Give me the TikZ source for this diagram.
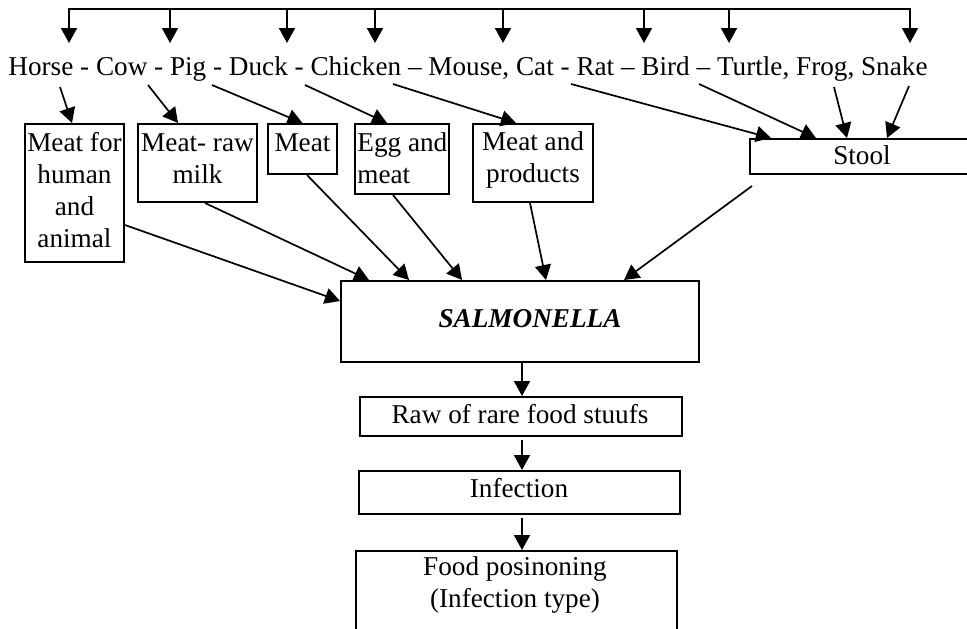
\documentclass[tikz,border=0pt]{standalone}
\usepackage{fontspec}
\setmainfont{Liberation Serif}
\usetikzlibrary{arrows.meta,calc}
\begin{document}
\begin{tikzpicture}[x=0.5pt,y=-0.5pt,
  box/.style={draw,line width=1pt,inner sep=0pt},
  lbl/.style={inner sep=0pt,font=\fontsize{13.6}{16}\selectfont},
  arr/.style={line width=0.85pt,-{Triangle[length=7.5pt,width=8pt]}},
  ]
\useasboundingbox (0,0) rectangle (967,628);

% feeder bar across the top
\coordinate (barL) at (69,9);
\coordinate (barR) at (910,9);
\draw[line width=1pt,line cap=rect] (barL) -- (barR);
\foreach \x [count=\i] in {69,170,287,375,503,644,729,910}{
  \coordinate (d\i) at (\x,43);
  \draw[arr] (d\i |- barL) -- (d\i);
}

% line of animal hosts
\node[lbl,anchor=base west] (animals) at (8,75)
  {Horse - Cow - Pig - Duck - Chicken -- Mouse, Cat - Rat -- Bird -- Turtle, Frog, Snake};

% source boxes (multi-line labels are anchored on their last baseline)
\node[box,minimum width=49.5pt,minimum height=69pt] (bMeatFor) at (74.5,193) {};
\node[lbl,align=center,anchor=base] (tMeatFor) at (74.5,247) {Meat for\\human\\and\\animal};

\node[box,minimum width=59.5pt,minimum height=39pt] (bRawMilk) at (197.5,163) {};
\node[lbl,align=center,anchor=base] (tRawMilk) at (197.5,183) {Meat- raw\\milk};

\node[box,minimum width=34.5pt,minimum height=25pt] (bMeat) at (302.5,149) {};
\node[lbl,anchor=base] (tMeat) at (302.5,151) {Meat};

\node[box,minimum width=47pt,minimum height=35pt] (bEgg) at (402,159) {};
\node[lbl,align=left,anchor=base west] (tEgg) at (357,183) {Egg and\\meat};

\node[box,minimum width=60pt,minimum height=39pt] (bProd) at (533,163) {};
\node[lbl,align=center,anchor=base] (tProd) at (533,182) {Meat and\\products};

% the stool box runs off the right edge
\node[box,minimum width=112.5pt,minimum height=17.5pt] (bStool) at (862.5,156.5) {};
\node[lbl,anchor=base] (tStool) at (862,164) {Stool};

% main chain
\node[box,minimum width=179pt,minimum height=40.5pt] (bSal) at (520,321.5) {};
\node[lbl,anchor=base] (tSal) at (530,327) {\bfseries\itshape SALMONELLA};

\node[box,minimum width=161pt,minimum height=19.5pt] (bRaw) at (521,416.5) {};
\node[lbl,anchor=base] (tRaw) at (520,423) {Raw of rare food stuufs};

\node[box,minimum width=160.5pt,minimum height=21.5pt] (bInf) at (519.5,492.5) {};
\node[lbl,anchor=base] (tInf) at (519,497) {Infection};

\node[box,minimum width=160.5pt,minimum height=55pt] (bFood) at (516.5,606) {};
\node[lbl,align=center,anchor=base] (tFood) at (515,607) {Food posinoning\\(Infection type)};

% arrows from the hosts to the source boxes
\coordinate (sHorse) at (60,87);
\coordinate (sCow) at (148,85);
\coordinate (sPig) at (212,85);
\coordinate (sDuck) at (305,85);
\coordinate (sChicken) at (393,84);
\coordinate (sRat) at (571,84);
\coordinate (sBird) at (699,84);
\coordinate (sFrog) at (834,87);
\coordinate (sSnake) at (909,86);

\draw[arr] (sHorse) -- ($(bMeatFor.north)+(-2.5,0)$);
\draw[arr] (sCow) -- ($(bRawMilk.north west)+(41,0)$);
\draw[arr] (sPig) -- (bMeat.north);
\draw[arr] (sDuck) -- ($(bEgg.north west)+(33,0)$);
\draw[arr] (sChicken) -- ($(bProd.north west)+(44,0)$);
\draw[arr] (sRat) -- ($(bStool.north west)+(22,0)$);
\draw[arr] (sBird) -- ($(bStool.north west)+(67,0)$);
\draw[arr] (sFrog) -- ($(bStool.north west)+(98,0)$);
\draw[arr] (sSnake) -- ($(bStool.north west)+(138,0)$);

% arrows into SALMONELLA
\draw[arr] ($(bMeatFor.east)+(0,32)$) -- ($(bSal.north west)+(0,21)$);
\draw[arr] ($(bRawMilk.south)+(7.5,0)$) -- ($(bSal.north west)+(29,0)$);
\draw[arr] ($(bMeat.south)+(4.5,0)$) -- ($(bSal.north west)+(69,0)$);
\draw[arr] ($(bEgg.south)+(-9,0)$) -- ($(bSal.north west)+(122,0)$);
\draw[arr] ($(bProd.south)+(-3,0)$) -- ($(bSal.north west)+(206,0)$);
\draw[arr] ($(bStool.south west)+(3,11)$) -- ($(bSal.north west)+(284,0)$);

% chain downwards
\draw[arr] ($(bSal.south)+(2,0)$) -- ($(bRaw.north)+(1,0)$);
\draw[arr] ($(bRaw.south)+(1,3)$) -- ($(bInf.north)+(2.5,0)$);
\draw[arr] ($(bInf.south)+(2.5,3)$) -- ($(bFood.north)+(5.5,0)$);
\end{tikzpicture}
\end{document}
